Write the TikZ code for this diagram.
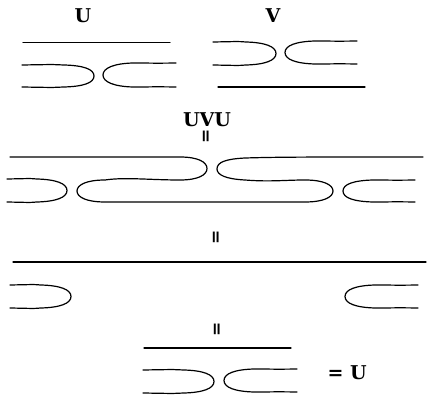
\documentclass[tikz,border=0pt]{standalone}
\usepackage{fontspec}
\newfontfamily\labfont{DejaVu Serif}[BoldFont={* Bold}]
\newfontfamily\eqfont{DejaVu Sans}[BoldFont={* Bold}]
\newcommand\rcap[4]{% open end x (left), tip x, top y, bottom y  (right-closing hairpin)
  \draw (#1,#3) .. controls ({(#1+#2)/2},{#3-0.6}) and (#2-40,#3-0.6) .. (#2-30,#3) .. controls (#2-11,#3+0.5) and (#2,{(#3+#4)/2-7}) .. (#2,{(#3+#4)/2}) .. controls (#2,{(#3+#4)/2+7}) and (#2-11,#4-0.5) .. (#2-30,#4) .. controls (#2-40,#4+0.6) and ({(#1+#2)/2},{#4+0.6}) .. (#1,#4);}
\newcommand\lcap[4]{% open end x (right), tip x (left), top y, bottom y (left-closing hairpin)
  \draw (#1,#3) .. controls ({(#1+#2)/2},{#3+0.6}) and (#2+40,#3-0.6) .. (#2+30,#3) .. controls (#2+11,#3+0.5) and (#2,{(#3+#4)/2-7}) .. (#2,{(#3+#4)/2}) .. controls (#2,{(#3+#4)/2+7}) and (#2+11,#4-0.5) .. (#2+30,#4) .. controls (#2+40,#4+0.6) and ({(#1+#2)/2},{#4-0.6}) .. (#1,#4);}
\tikzset{
  lab/.style={font=\fontsize{19}{21}\selectfont\labfont\bfseries, inner sep=0pt},
  eqv/.style={font=\fontsize{17}{19}\selectfont\eqfont\bfseries, inner sep=0pt, rotate=90},
}
\begin{document}
\begin{tikzpicture}[x=1pt,y=-1pt,line width=1.2pt,line cap=round]
\useasboundingbox (0,0) rectangle (431,403);
% ---- U ----
\node[lab] (lu) at (83,16) {U};
\draw (23,42.5) -- (170,42.5);
\rcap{22}{94}{65}{87}
\lcap{176}{103}{63}{87}
% ---- V ----
\node[lab] (lv) at (273,16) {V};
\rcap{213}{276}{42}{65}
\lcap{357}{285}{41}{64}
\draw (218,87) -- (365,87);
% ---- UVU ----
\node[lab] (luvu) at (207,120) {UVU};
\node[eqv] (e1) at (207,136) {=};
\draw (10,157) -- (180,157) .. controls (198,157) and (207,162) .. (207,168.5)
  .. controls (207,175) and (198,180) .. (180,180)
  .. controls (150,180) and (125,177) .. (105,180)
  .. controls (86,180) and (77,185) .. (77,191)
  .. controls (77,197) and (86,202) .. (105,202)
  -- (305,202)
  .. controls (324,202) and (333,197) .. (333,191)
  .. controls (333,185) and (324,180) .. (305,180)
  .. controls (285,180) and (270,182) .. (245,180)
  .. controls (226,179) and (217,175) .. (217,169)
  .. controls (217,162) and (226,159) .. (245,158)
  .. controls (280,157) and (300,157) .. (423,157);
\rcap{7}{67}{179}{202}
\lcap{415}{343}{180}{202}
% ---- second = ----
\node[eqv] (e2) at (217,237) {=};
\draw (13,262) -- (426,262);
\rcap{10}{71}{285}{308}
\lcap{418}{345}{285}{308}
% ---- third = ----
\node[eqv] (e3) at (218,329) {=};
\draw (144,348) -- (291,348);
\rcap{143}{214}{370}{393}
\lcap{297}{224}{369}{392}
\node[lab,anchor=west] (equ) at (327,373) {= U};
\end{tikzpicture}
\end{document}
